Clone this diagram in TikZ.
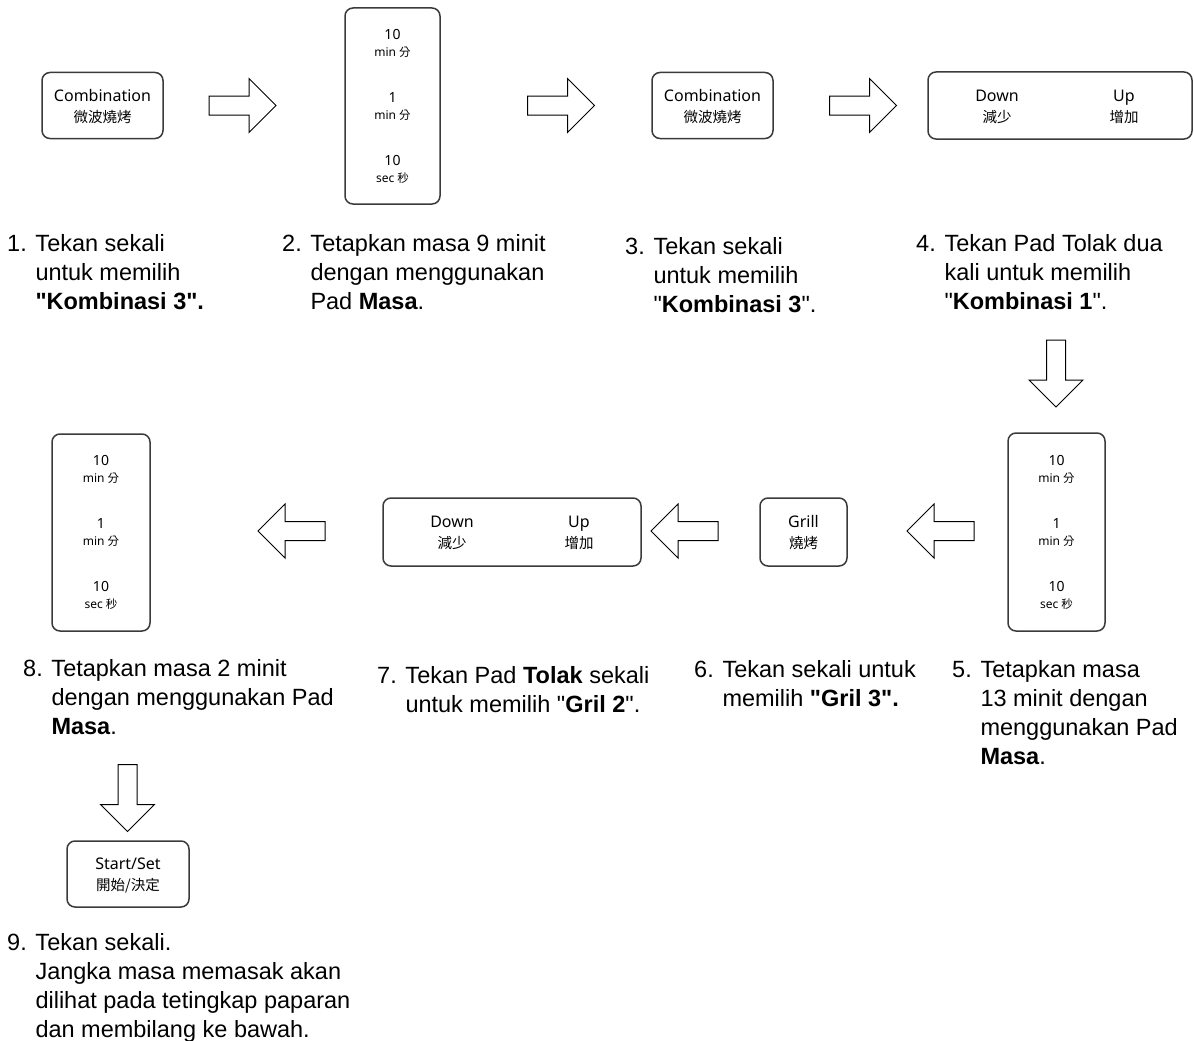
\documentclass[tikz,border=0pt]{standalone}
\usepackage{fontspec}
\setmainfont{Liberation Sans}[Ligatures=TeXOff]
\newfontfamily\boxfont{Noto Sans}
\newfontfamily\cjk{Noto Sans CJK TC}
\definecolor{boxgray}{HTML}{3A3A3A}
\newcommand\zh[1]{{\cjk\fontsize{14.5}{21}\selectfont #1}}
\newcommand\zhs[1]{{\cjk\fontsize{11.5}{17}\selectfont #1}}
\newcommand\bignum[1]{{\fontsize{14}{17}\selectfont #1}}
\tikzset{
  padbox/.style={draw=boxgray, line width=1.5pt, rounded corners=8pt, inner sep=0pt},
  padtxt/.style={font=\boxfont\fontsize{16}{21}\selectfont, align=center, inner sep=0pt},
  timetxt/.style={font=\boxfont\fontsize{12}{17}\selectfont, align=center, inner sep=0pt},
  steptxt/.style={anchor=base west, inner sep=0pt, font=\fontsize{23.5}{29}\selectfont},
  barrow/.pic={\draw[line width=1pt, black] (-33.5,-9.5) -- (6.5,-9.5) -- (6.5,-27) -- (33.5,0) -- (6.5,27) -- (6.5,9.5) -- (-33.5,9.5) -- cycle;}
}
\begin{document}
\begin{tikzpicture}[x=1pt, y=-1pt]
\useasboundingbox (0,0) rectangle (1194,1041);

% ---------- Row 1 ----------
\node[padbox, minimum width=121pt, minimum height=66pt] (b1) at (102.5,105.5) {};
\node[padtxt] (b1t) at (102.5,106.5) {Combination\\\zh{微波燒烤}};

\pic at (242.5,105.5) {barrow};

\node[padbox, minimum width=95pt, minimum height=196pt] (b2) at (392.5,106) {};
\node[timetxt] (b2a) at (392.5,43.5) {\bignum{10}\\min \zhs{分}};
\node[timetxt] (b2b) at (392.5,106) {\bignum{1}\\min \zhs{分}};
\node[timetxt] (b2c) at (392.5,169) {\bignum{10}\\sec \zhs{秒}};

\pic at (561,105.5) {barrow};

\node[padbox, minimum width=121pt, minimum height=66pt] (b3) at (712.5,105.5) {};
\node[padtxt] (b3t) at (712.5,106.5) {Combination\\\zh{微波燒烤}};

\pic at (863,105.5) {barrow};

\node[padbox, minimum width=264pt, minimum height=67pt] (b4) at (1060,105.5) {};
\node[padtxt] (b4d) at (997,106.5) {Down\\\zh{減少}};
\node[padtxt] (b4u) at (1124,106.5) {Up\\\zh{增加}};

% ---------- Step texts row 1 ----------
\node[steptxt] (s1) at (7,251.5) {\begin{tabular}[t]{@{}l@{ }l@{}}1. & Tekan sekali\\ & untuk memilih\\ & \textbf{"Kombinasi 3".}\end{tabular}};
\node[steptxt] (s2) at (282,251.5) {\begin{tabular}[t]{@{}l@{ }l@{}}2. & Tetapkan masa 9 minit\\ & dengan menggunakan\\ & Pad \textbf{Masa}.\end{tabular}};
\node[steptxt] (s3) at (625,254.5) {\begin{tabular}[t]{@{}l@{ }l@{}}3. & Tekan sekali\\ & untuk memilih\\ & "\textbf{Kombinasi 3}".\end{tabular}};
\node[steptxt] (s4) at (916,251.5) {\begin{tabular}[t]{@{}l@{ }l@{}}4. & Tekan Pad Tolak dua\\ & kali untuk memilih\\ & "\textbf{Kombinasi 1}".\end{tabular}};

\pic[rotate=-90] at (1056,373.5) {barrow};

% ---------- Row 2 ----------
\node[padbox, minimum width=97pt, minimum height=198pt] (b5) at (1056.5,532) {};
\node[timetxt] (b5a) at (1056.5,469.5) {\bignum{10}\\min \zhs{分}};
\node[timetxt] (b5b) at (1056.5,532) {\bignum{1}\\min \zhs{分}};
\node[timetxt] (b5c) at (1056.5,595.5) {\bignum{10}\\sec \zhs{秒}};

\pic[rotate=180] at (940.5,531) {barrow};

\node[padbox, minimum width=87pt, minimum height=68pt] (b6) at (803.5,532) {};
\node[padtxt] (b6t) at (803.5,533) {Grill\\\zh{燒烤}};

\pic[rotate=180] at (684.5,531) {barrow};

\node[padbox, minimum width=258pt, minimum height=68pt] (b7) at (512,532) {};
\node[padtxt] (b7d) at (452,533) {Down\\\zh{減少}};
\node[padtxt] (b7u) at (579,533) {Up\\\zh{增加}};

\pic[rotate=180] at (291.5,531) {barrow};

\node[padbox, minimum width=98pt, minimum height=197pt] (b8) at (101,532.5) {};
\node[timetxt] (b8a) at (101,469.5) {\bignum{10}\\min \zhs{分}};
\node[timetxt] (b8b) at (101,532) {\bignum{1}\\min \zhs{分}};
\node[timetxt] (b8c) at (101,595.5) {\bignum{10}\\sec \zhs{秒}};

% ---------- Step texts row 2 ----------
\node[steptxt] (s8) at (23,676.5) {\begin{tabular}[t]{@{}l@{ }l@{}}8. & Tetapkan masa 2 minit\\ & dengan menggunakan Pad\\ & \textbf{Masa}.\end{tabular}};
\node[steptxt] (s7) at (377,683.5) {\begin{tabular}[t]{@{}l@{ }l@{}}7. & Tekan Pad \textbf{Tolak} sekali\\ & untuk memilih "\textbf{Gril 2}".\end{tabular}};
\node[steptxt] (s6) at (694,677) {\begin{tabular}[t]{@{}l@{ }l@{}}6. & Tekan sekali untuk\\ & memilih \textbf{"Gril 3".}\end{tabular}};
\node[steptxt] (s5) at (952,677.5) {\begin{tabular}[t]{@{}l@{ }l@{}}5. & Tetapkan masa\\ & 13 minit dengan\\ & menggunakan Pad\\ & \textbf{Masa}.\end{tabular}};

\pic[rotate=-90] at (127.5,798) {barrow};

% ---------- Row 3 ----------
\node[padbox, minimum width=122pt, minimum height=66pt] (b9) at (128,874) {};
\node[padtxt] (b9t) at (128,875) {Start/Set\\\zh{開始/決定}};

\node[steptxt] (s9) at (7,950.5) {\begin{tabular}[t]{@{}l@{ }l@{}}9. & Tekan sekali.\\ & Jangka masa memasak akan\\ & dilihat pada tetingkap paparan\\ & dan membilang ke bawah.\end{tabular}};
\end{tikzpicture}
\end{document}
